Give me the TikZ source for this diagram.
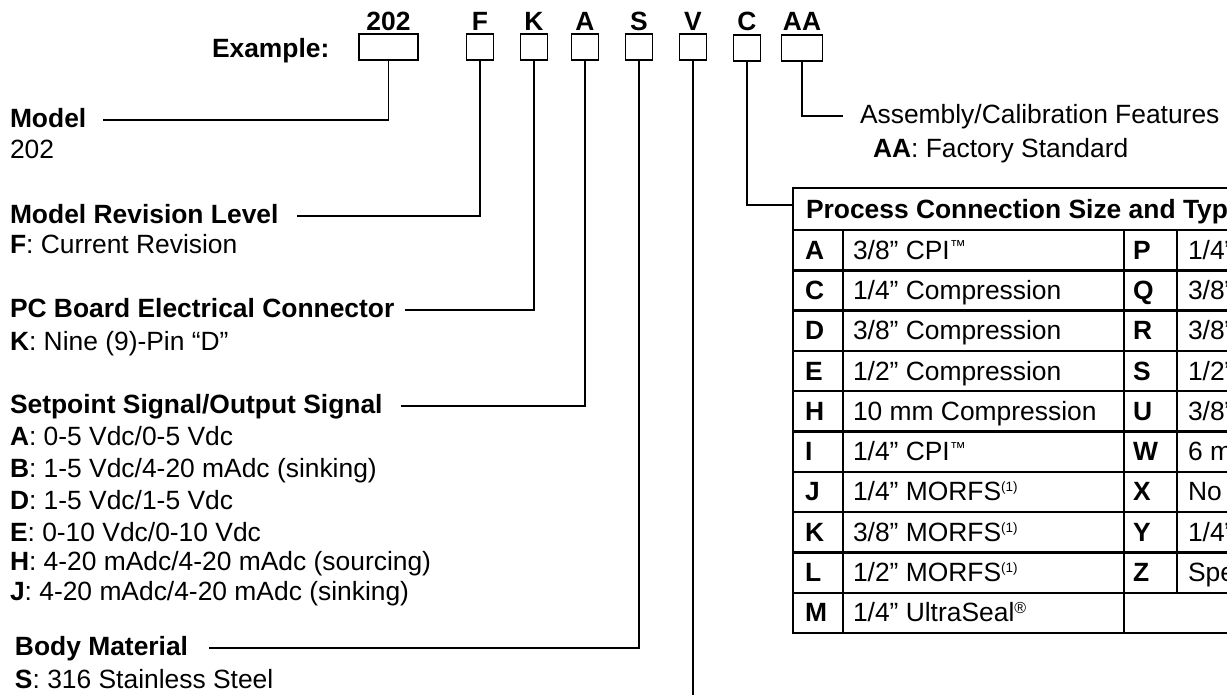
\documentclass[tikz,border=0pt]{standalone}
\usepackage{fontspec}
\setmainfont{Liberation Sans}
\newcommand\fs{\fontsize{26.4}{31}\selectfont}
\newcommand\tmark{\raisebox{7.5pt}{\fontsize{16}{16}\selectfont ™}}
\newcommand\regmark{\raisebox{8pt}{\fontsize{16}{16}\selectfont ®}}
\newcommand\noteone{\raisebox{9pt}{\fontsize{13.5}{13.5}\selectfont (1)}}
\newcommand\tblrow[5]{%
  \node[cell,font=\fs\bfseries] (tl#1) at (805,{259.15+40.3*(#1-1)}) {#2};
  \node[cell] (td#1) at (853,{259.15+40.3*(#1-1)}) {#3};
  \node[cell,font=\fs\bfseries] (tr#1) at (1133,{259.15+40.3*(#1-1)}) {#4};
  \node[cell] (te#1) at (1188,{259.15+40.3*(#1-1)}) {#5};
}
\begin{document}
\begin{tikzpicture}[x=1pt,y=-1pt,
  every node/.style={inner sep=0pt, outer sep=0pt, font=\fs},
  codebox/.style={draw, line width=1.6pt, minimum height=26pt, minimum width=27pt},
  codelab/.style={anchor=base, font=\fs\bfseries},
  title/.style={anchor=base west, font=\fs\bfseries, text height=16pt, text depth=2pt},
  opt/.style={anchor=base west},
  conn/.style={line width=1.6pt},
  gridline/.style={line width=2.4pt, line cap=rect},
  cell/.style={anchor=base west}]

\useasboundingbox (0,0) rectangle (1227,694);
\clip (0,0) rectangle (1227,694);

% example row
\node[font=\fs\bfseries, anchor=base west] (ex) at (212,57) {Example:};
\node[codebox, minimum width=59pt] (b202) at (388.5,47) {};
\node[codebox] (bF) at (480,47) {};
\node[codebox] (bK) at (534,47) {};
\node[codebox] (bA) at (585,47) {};
\node[codebox] (bS) at (639,47) {};
\node[codebox] (bV) at (693,47) {};
\node[codebox] (bC) at (747,48) {};
\node[codebox, minimum width=41pt] (bAA) at (802,48) {};

\node[codelab] (l202) at (388.5,30) {202};
\node[codelab] (lF) at (480,30) {F};
\node[codelab] (lK) at (534,30) {K};
\node[codelab] (lA) at (585,30) {A};
\node[codelab] (lS) at (639,30) {S};
\node[codelab] (lV) at (693,30) {V};
\node[codelab] (lC) at (747,30) {C};
\node[codelab] (lAA) at (802,30) {AA};

% left descriptions
\node[title] (tModel) at (10,127) {Model};
\node[opt] (oModel) at (10,158) {202};
\node[title] (tRev) at (10,223) {Model Revision Level};
\node[opt] (oRev) at (10,253) {\textbf{F}: Current Revision};
\node[title] (tPCB) at (10,317) {PC Board Electrical Connector};
\node[opt] (oPCB) at (10,350) {\textbf{K}: Nine (9)-Pin “D”};
\node[title] (tSig) at (10,413) {Setpoint Signal/Output Signal};
\node[opt] (oSA) at (10,445) {\textbf{A}: 0-5 Vdc/0-5 Vdc};
\node[opt] (oSB) at (10,477) {\textbf{B}: 1-5 Vdc/4-20 mAdc (sinking)};
\node[opt] (oSD) at (10,509) {\textbf{D}: 1-5 Vdc/1-5 Vdc};
\node[opt] (oSE) at (10,541) {\textbf{E}: 0-10 Vdc/0-10 Vdc};
\node[opt] (oSH) at (10,570) {\textbf{H}: 4-20 mAdc/4-20 mAdc (sourcing)};
\node[opt] (oSJ) at (10,600) {\textbf{J}: 4-20 mAdc/4-20 mAdc (sinking)};
\node[title] (tBody) at (15,655) {Body Material};
\node[opt] (oBody) at (15,688) {\textbf{S}: 316 Stainless Steel};

% right descriptions
\node[title, font=\fs] (tAsm) at (860,123) {Assembly/Calibration Features};
\node[opt] (oAsm) at (873,157) {\textbf{AA}: Factory Standard};

% table
\node[draw, line width=2.4pt, anchor=north west, minimum width=540pt, minimum height=42pt] (thead) at (793,188) {};
\node[cell, font=\fs\bfseries] (thtext) at (806,218.5) {Process Connection Size and Type};
\foreach \i in {1,...,10} \draw[gridline] (793,{230+40.3*\i}) -- (1333,{230+40.3*\i});
\draw[gridline] (793,230) -- (793,633);
\draw[gridline] (843,230) -- (843,633);
\draw[gridline] (1124,230) -- (1124,633);
\draw[gridline] (1177,230) -- (1177,593);

\tblrow{1}{A}{3/8” CPI\tmark}{P}{1/4” VCR}
\tblrow{2}{C}{1/4” Compression}{Q}{3/8” VCR}
\tblrow{3}{D}{3/8” Compression}{R}{3/8” Swagelok}
\tblrow{4}{E}{1/2” Compression}{S}{1/2” VCR}
\tblrow{5}{H}{10 mm Compression}{U}{3/8” Swagelok}
\tblrow{6}{I}{1/4” CPI\tmark}{W}{6 mm Compression}
\tblrow{7}{J}{1/4” MORFS\noteone}{X}{No Connection}
\tblrow{8}{K}{3/8” MORFS\noteone}{Y}{1/4” VCR}
\tblrow{9}{L}{1/2” MORFS\noteone}{Z}{Special}
\node[cell,font=\fs\bfseries] (tl10) at (805,{259.15+40.3*9}) {M};
\node[cell] (td10) at (853,{259.15+40.3*9}) {1/4” UltraSeal\regmark};

% connectors
\draw[conn] (b202.south) |- ([xshift=17pt]tModel.east);
\draw[conn] (bF.south) |- ([xshift=19pt]tRev.east);
\draw[conn] (bK.south) |- ([xshift=11pt]tPCB.east);
\draw[conn] (bA.south) |- ([xshift=18pt]tSig.east);
\draw[conn] (bS.south) |- ([xshift=21pt]tBody.east);
\coordinate (vEnd) at (693,700);
\draw[conn] (bV.south) -- (vEnd);
\draw[conn] (bC.south) |- ([yshift=4pt]thead.west);
\draw[conn] (bAA.south) |- ([xshift=-17pt]tAsm.west);
\end{tikzpicture}
\end{document}
